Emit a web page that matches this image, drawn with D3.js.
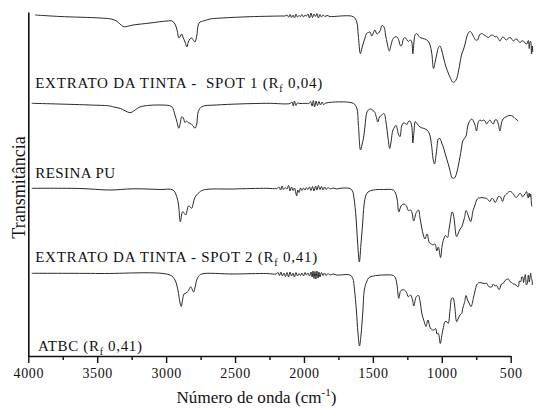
<!DOCTYPE html>
<html>
<head>
<meta charset="utf-8">
<script src="https://cdn.jsdelivr.net/npm/d3@7/dist/d3.min.js"></script>
<style>
  body { margin: 0; background: #fff; }
  svg { display: block; }
  svg text { font-family: "Liberation Serif", "Times New Roman", serif; }
</style>
</head>
<body>
<div id="chart"></div>
<script>
// FTIR spectra, [wavenumber (cm-1), transmittance (u.a., stacked)]
const spot1 = [
  [3951, 341], [3770, 339.5], [3480, 338], [3400, 337], [3360, 335], [3335, 332], [3313, 329.5], [3295, 329.3],
  [3270, 330], [3240, 331], [3180, 332], [3117, 333], [2994, 335], [2957, 335], [2936, 332], [2921, 326],
  [2906, 318], [2887, 322], [2878, 319], [2863, 314], [2849, 309], [2839, 314], [2827, 317], [2814, 318],
  [2803, 316], [2791, 314], [2778, 320], [2767, 331], [2754, 334], [2730, 335], [2682, 337], [2631, 337.7],
  [2391, 339.3], [2152, 340],
  [2137, 340], [2123, 341], [2112, 339], [2101, 341.5], [2090, 338.5], [2079, 341], [2069, 338], [2058, 342],
  [2047, 339], [2036, 340.5], [2025, 339.5], [2014, 341.5], [2003, 339], [1992, 341], [1982, 340], [1971, 342],
  [1960, 338], [1949, 343], [1938, 338.5], [1927, 342], [1916, 339.5], [1906, 342.5], [1895, 338], [1884, 341.5],
  [1873, 339], [1862, 341], [1847, 339.5], [1833, 340.5], [1811, 339.5], [1789, 339.5], [1642, 339.3],
  [1617, 334], [1606, 321], [1591, 302.5], [1579, 308], [1569, 313], [1557, 318], [1545, 322.7], [1533, 323.5],
  [1521, 324], [1508, 320], [1497, 323], [1485, 326], [1470, 322], [1448, 325], [1434, 330.5], [1419, 329],
  [1408, 321], [1395, 312], [1381, 305], [1368, 311], [1352, 317.7], [1327, 319.3], [1315, 317], [1298, 310],
  [1289, 311], [1279, 317], [1267, 318.5], [1252, 316], [1243, 314.5], [1228, 316], [1218, 314], [1210, 302],
  [1203, 312], [1194, 321], [1182, 322.5], [1158, 318.5], [1122, 317], [1100, 315], [1085, 311], [1073, 303],
  [1060, 287.5], [1047, 295], [1036, 302], [1024, 308.5], [1013, 310], [1001, 306], [987, 298], [969, 289],
  [953, 283], [936, 277.5], [922, 274], [909, 274], [893, 277], [880, 284], [868, 293], [855, 302], [844, 306],
  [831, 312], [819, 319], [808, 323], [793, 324.5], [781, 322.5], [770, 319.5], [755, 316], [741, 316],
  [726, 321], [712, 322.5], [697, 321.5], [674, 319.3], [661, 318.5], [650, 320], [638, 321], [626, 320.5],
  [614, 319], [601, 319.5], [589, 317], [578, 315], [565, 318], [554, 319], [541, 317], [529, 316], [517, 318],
  [505, 318.5], [493, 317], [481, 315], [469, 316.5], [456, 317], [445, 315], [432, 313.5], [420, 315],
  [408, 315], [396, 313], [384, 312], [372, 315.5], [365, 307.5], [360, 314], [355, 314.5], [349, 302],
  [343, 310], [340, 304]
];

const resinaPU = [
  [3975, 252.7], [3552, 251], [3407, 250], [3380, 249], [3330, 247.5], [3295, 245], [3270, 243.5], [3255, 243.5],
  [3235, 245], [3210, 247.5], [3180, 249.5], [3044, 251], [2960, 249.3], [2936, 241], [2921, 234], [2908, 227.7],
  [2897, 233], [2887, 239.3], [2875, 238], [2863, 233.5], [2851, 235], [2839, 233.3], [2827, 232.7], [2803, 230],
  [2791, 227.7], [2778, 232], [2767, 244.3], [2742, 249.3], [2633, 251], [2270, 252.7], [2101, 252.5], [2087, 254],
  [2077, 250], [2069, 255], [2058, 250.5], [2047, 253], [2029, 252.5], [1992, 252.7], [1963, 252.5], [1952, 254.5],
  [1941, 250], [1932, 255.5], [1923, 249], [1912, 255], [1902, 250.5], [1891, 254.5], [1880, 251], [1869, 254],
  [1858, 251.5], [1840, 253], [1642, 252.7],
  [1617, 248], [1605, 231], [1590, 206], [1579, 211], [1568, 218], [1557, 230], [1545, 243], [1533, 246],
  [1517, 247], [1499, 245.5], [1485, 243.5], [1464, 234], [1452, 239], [1436, 241], [1419, 242.5], [1405, 234],
  [1390, 218], [1378, 207.5], [1368, 214], [1354, 226], [1332, 230.5], [1315, 222], [1303, 219.3], [1291, 230],
  [1279, 233], [1263, 232.5], [1252, 231.5], [1243, 234.3], [1231, 235], [1218, 230], [1210, 213], [1202, 224],
  [1192, 234.5], [1180, 232.5], [1158, 229], [1134, 227.7], [1107, 226], [1089, 222], [1073, 209.3], [1064, 198],
  [1053, 192], [1037, 206], [1025, 217], [1013, 217.5], [1001, 213], [989, 209], [977, 203], [964, 197],
  [951, 191], [938, 184], [924, 178], [908, 178], [892, 183], [879, 191], [868, 199], [857, 208], [848, 215],
  [839, 217], [824, 220], [813, 229], [800, 234.5], [783, 237], [771, 235], [759, 231], [748, 225], [735, 234],
  [723, 236], [710, 235], [699, 236], [686, 235], [674, 232], [662, 234.5], [650, 236], [638, 233.5], [626, 232],
  [614, 236], [601, 236], [590, 232], [578, 225], [568, 232], [556, 237], [529, 239.5], [505, 240.7],
  [483, 239.5], [469, 237.7], [445, 235]
];

const spot2 = [
  [3975, 167.7], [3625, 167.5], [3407, 166], [3240, 167.2], [3044, 166.5], [2950, 166], [2923, 159.3], [2910, 151],
  [2897, 134.3], [2881, 144.3], [2870, 143], [2858, 141], [2838, 150], [2827, 149.3], [2814, 147.7], [2803, 153],
  [2791, 158.5], [2767, 162.7], [2730, 166], [2515, 167], [2270, 167.7], [2198, 167.5], [2181, 169], [2170, 166],
  [2159, 170], [2148, 166.5], [2137, 168.5], [2123, 167], [2112, 170.5], [2101, 165], [2090, 169], [2079, 165.5],
  [2069, 168], [2059, 163], [2053, 160], [2045, 166], [2036, 163.5], [2025, 168], [2014, 165.5], [2003, 168],
  [1992, 166], [1982, 168.5], [1971, 166.5], [1960, 169], [1949, 165.5], [1938, 169.5], [1927, 165], [1916, 170],
  [1906, 166], [1895, 170.5], [1884, 166.5], [1873, 169.5], [1862, 166], [1851, 169], [1840, 166.5], [1825, 168.5],
  [1811, 167], [1789, 168], [1762, 167], [1738, 167.7], [1666, 167.5], [1648, 165], [1637, 158], [1622, 138],
  [1612, 116], [1598, 94], [1587, 111], [1575, 131], [1564, 151], [1550, 161], [1535, 164], [1497, 166],
  [1424, 166.5], [1352, 166], [1336, 163], [1323, 156], [1312, 144], [1299, 149], [1291, 151], [1274, 152],
  [1256, 150], [1243, 145.5], [1225, 146], [1214, 142], [1204, 135], [1185, 143.5], [1169, 146], [1158, 138],
  [1145, 128], [1134, 121], [1122, 117], [1107, 122], [1089, 113], [1073, 112], [1066, 111], [1049, 112],
  [1036, 105], [1025, 109], [1009, 98.5], [998, 110], [989, 115.5], [973, 120.5], [958, 118.5], [948, 126],
  [937, 136], [926, 144], [919, 143], [908, 134], [893, 119.5], [882, 122], [868, 127], [855, 129], [848, 132],
  [835, 138.5], [824, 145.5], [813, 142.5], [802, 138], [790, 134.3], [773, 145.5], [759, 151], [747, 156],
  [734, 158], [723, 158], [708, 158.5], [694, 158], [674, 157.7], [661, 155.5], [650, 154.5], [638, 157.5],
  [626, 157], [614, 153.5], [601, 156], [589, 159.5], [574, 159], [559, 154.5], [545, 160], [530, 162],
  [516, 164], [501, 164.5], [490, 163.5], [476, 161], [462, 158.5], [447, 160], [436, 162.5], [425, 162],
  [414, 159], [403, 161], [394, 162.5], [385, 164.5], [378, 160], [372, 158], [366, 163], [360, 159],
  [355, 162], [350, 153], [347, 149.5]
];

const atbc = [
  [3975, 82.7], [3480, 82.5], [2972, 81], [2936, 76], [2921, 70], [2910, 62.5], [2899, 53], [2890, 49.5],
  [2881, 56], [2870, 62], [2856, 63], [2839, 65], [2822, 69.3], [2812, 67], [2801, 64], [2791, 68], [2778, 76],
  [2765, 79.5], [2742, 82], [2515, 82], [2270, 82.5], [2203, 82], [2188, 83.5], [2177, 80.5], [2167, 84],
  [2156, 80], [2145, 83], [2134, 79.5], [2123, 83.5], [2112, 79], [2101, 84], [2090, 80], [2079, 83], [2069, 79],
  [2058, 83.5], [2047, 80], [2036, 82.5], [2025, 80.5], [2014, 83], [2003, 80], [1992, 83.5], [1982, 81],
  [1971, 83], [1960, 80], [1949, 84], [1941, 79], [1934, 85], [1927, 77.5], [1920, 84.5], [1913, 77],
  [1906, 85], [1898, 78], [1891, 84], [1884, 79], [1873, 83.5], [1862, 80.5], [1851, 83], [1840, 80.5],
  [1825, 82.5], [1811, 81], [1789, 82], [1762, 81], [1738, 81], [1666, 81], [1646, 77.7], [1633, 66],
  [1620, 46], [1608, 23], [1597, 10], [1586, 21], [1573, 44], [1562, 66], [1545, 74.3], [1528, 78.5],
  [1497, 80], [1424, 81], [1352, 80.5], [1336, 78], [1325, 71], [1312, 57.7], [1299, 65], [1289, 66],
  [1270, 66], [1256, 63.5], [1243, 59.3], [1227, 61], [1212, 56], [1203, 50], [1185, 59.3], [1169, 60.5],
  [1158, 55], [1144, 42], [1129, 35], [1114, 29.5], [1101, 36], [1083, 28], [1067, 26], [1056, 26],
  [1044, 27.5], [1035, 22], [1025, 22.5], [1011, 12.5], [997, 23], [988, 28.5], [977, 34.3], [962, 34],
  [953, 32.7], [940, 46], [928, 57.7], [918, 58], [908, 52], [892, 34.3], [882, 37], [868, 41], [855, 42.7],
  [848, 47.7], [835, 53.5], [824, 60.5], [813, 56], [802, 53], [788, 49.3], [771, 57.7], [759, 65], [747, 71],
  [734, 73], [723, 73.5], [708, 73], [694, 72.5], [674, 72.7], [661, 69.7], [650, 69], [638, 69], [626, 72],
  [614, 70], [601, 70.5], [589, 67], [582, 66.5], [567, 72], [554, 72.7], [541, 75.5], [529, 76.5], [517, 77],
  [505, 74.5], [493, 73.5], [481, 72], [469, 72], [456, 70], [445, 69.3], [436, 75], [427, 74.3], [420, 79],
  [413, 79], [407, 73.5], [400, 78.5], [394, 81.5], [386, 71], [379, 73], [372, 81], [365, 74], [359, 80],
  [355, 82.7], [350, 77.5], [345, 76], [343, 71]
];

// label text split around the subscript "f" of Rf
const seriesNames = [
  ["EXTRATO DA TINTA -  SPOT 1 (R", "f", " 0,04)"],
  ["RESINA PU", "", ""],
  ["EXTRATO DA TINTA - SPOT 2 (R", "f", " 0,41)"],
  ["ATBC (R", "f", " 0,41)"]
];

const xTickValues = [4000, 3500, 3000, 2500, 2000, 1500, 1000, 500];
const xMinorTickValues = [3750, 3250, 2750, 2250, 1750, 1250, 750];

const serif = '"Liberation Serif", "Times New Roman", serif';
const width = 553, height = 408;
const margin = { top: 12, right: 42.3, bottom: 52, left: 28.3 };
const innerW = width - margin.left - margin.right;
const innerH = height - margin.top - margin.bottom;

const svg = d3.select("#chart").append("svg")
  .attr("width", width)
  .attr("height", height);

const g = svg.append("g")
  .attr("transform", `translate(${margin.left},${margin.top})`);

const x = d3.scaleLinear().domain([4000, 500]).range([0, innerW]);
const y = d3.scaleLinear().domain([0, 344]).range([innerH, 0]);

// spectra
const line = d3.line()
  .x(d => x(d[0]))
  .y(d => y(d[1]))
  .curve(d3.curveCatmullRom.alpha(0.5));

g.selectAll(".spectrum")
  .data([spot1, resinaPU, spot2, atbc])
  .enter()
  .append("path")
  .attr("class", "spectrum")
  .attr("d", line)
  .attr("fill", "none")
  .attr("stroke", "#2a2a2a")
  .attr("stroke-width", 1)
  .attr("stroke-linejoin", "round");

// series labels, anchored in data units
const labelPlacement = [
  { w: 3950, v: 268, len: 287 },
  { w: 3950, v: 178, len: 80 },
  { w: 3950, v: 94, len: 282 },
  { w: 3930, v: 5.5, len: 104 }
];

seriesNames.forEach((parts, i) => {
  const p = labelPlacement[i];
  const t = g.append("text")
    .attr("x", x(p.w))
    .attr("y", y(p.v))
    .attr("font-size", 15)
    .attr("fill", "#111")
    .attr("textLength", p.len)
    .attr("lengthAdjust", "spacing")
    .style("white-space", "pre");
  t.append("tspan").text(parts[0]);
  if (parts[1]) {
    t.append("tspan").attr("font-size", 10).attr("dy", 4).text(parts[1]);
    t.append("tspan").attr("dy", -4).text(parts[2]);
  }
});

// bottom axis: major ticks with labels, minor ticks without
const xAxis = g.append("g")
  .attr("transform", `translate(0,${innerH})`)
  .call(d3.axisBottom(x).tickValues(xTickValues).tickSize(7).tickSizeOuter(0).tickFormat(d3.format("d")))
  .attr("font-family", null);

xAxis.select(".domain").attr("stroke", "#111").attr("stroke-width", 1.6);
xAxis.selectAll(".tick line").attr("stroke", "#111").attr("stroke-width", 1.4);
xAxis.selectAll(".tick text")
  .style("font-family", serif)
  .attr("font-size", 14)
  .attr("letter-spacing", 0.6)
  .attr("fill", "#111")
  .attr("dy", 0)
  .attr("y", 21.5);

g.append("g")
  .attr("transform", `translate(0,${innerH})`)
  .call(d3.axisBottom(x).tickValues(xMinorTickValues).tickSize(4).tickFormat(""))
  .call(a => a.select(".domain").remove())
  .call(a => a.selectAll(".tick line").attr("stroke", "#111").attr("stroke-width", 1.4));

// left axis: plain line, no ticks
g.append("g")
  .call(d3.axisLeft(y).tickValues([]).tickSizeOuter(0))
  .call(a => a.select(".domain").attr("stroke", "#111").attr("stroke-width", 1.6));

// axis titles
const xTitle = svg.append("text")
  .attr("x", 176.5)
  .attr("y", 402.7)
  .attr("font-size", 17)
  .attr("fill", "#111")
  .attr("textLength", 160)
  .attr("lengthAdjust", "spacing");
xTitle.append("tspan").text("Número de onda (cm");
xTitle.append("tspan").attr("font-size", 11).attr("dy", -7).text("-1");
xTitle.append("tspan").attr("dy", 7).text(")");

svg.append("text")
  .attr("transform", "translate(24.5,187.5) rotate(-90)")
  .attr("text-anchor", "middle")
  .attr("font-size", 18)
  .attr("fill", "#111")
  .text("Transmitância");
</script>
</body>
</html>
